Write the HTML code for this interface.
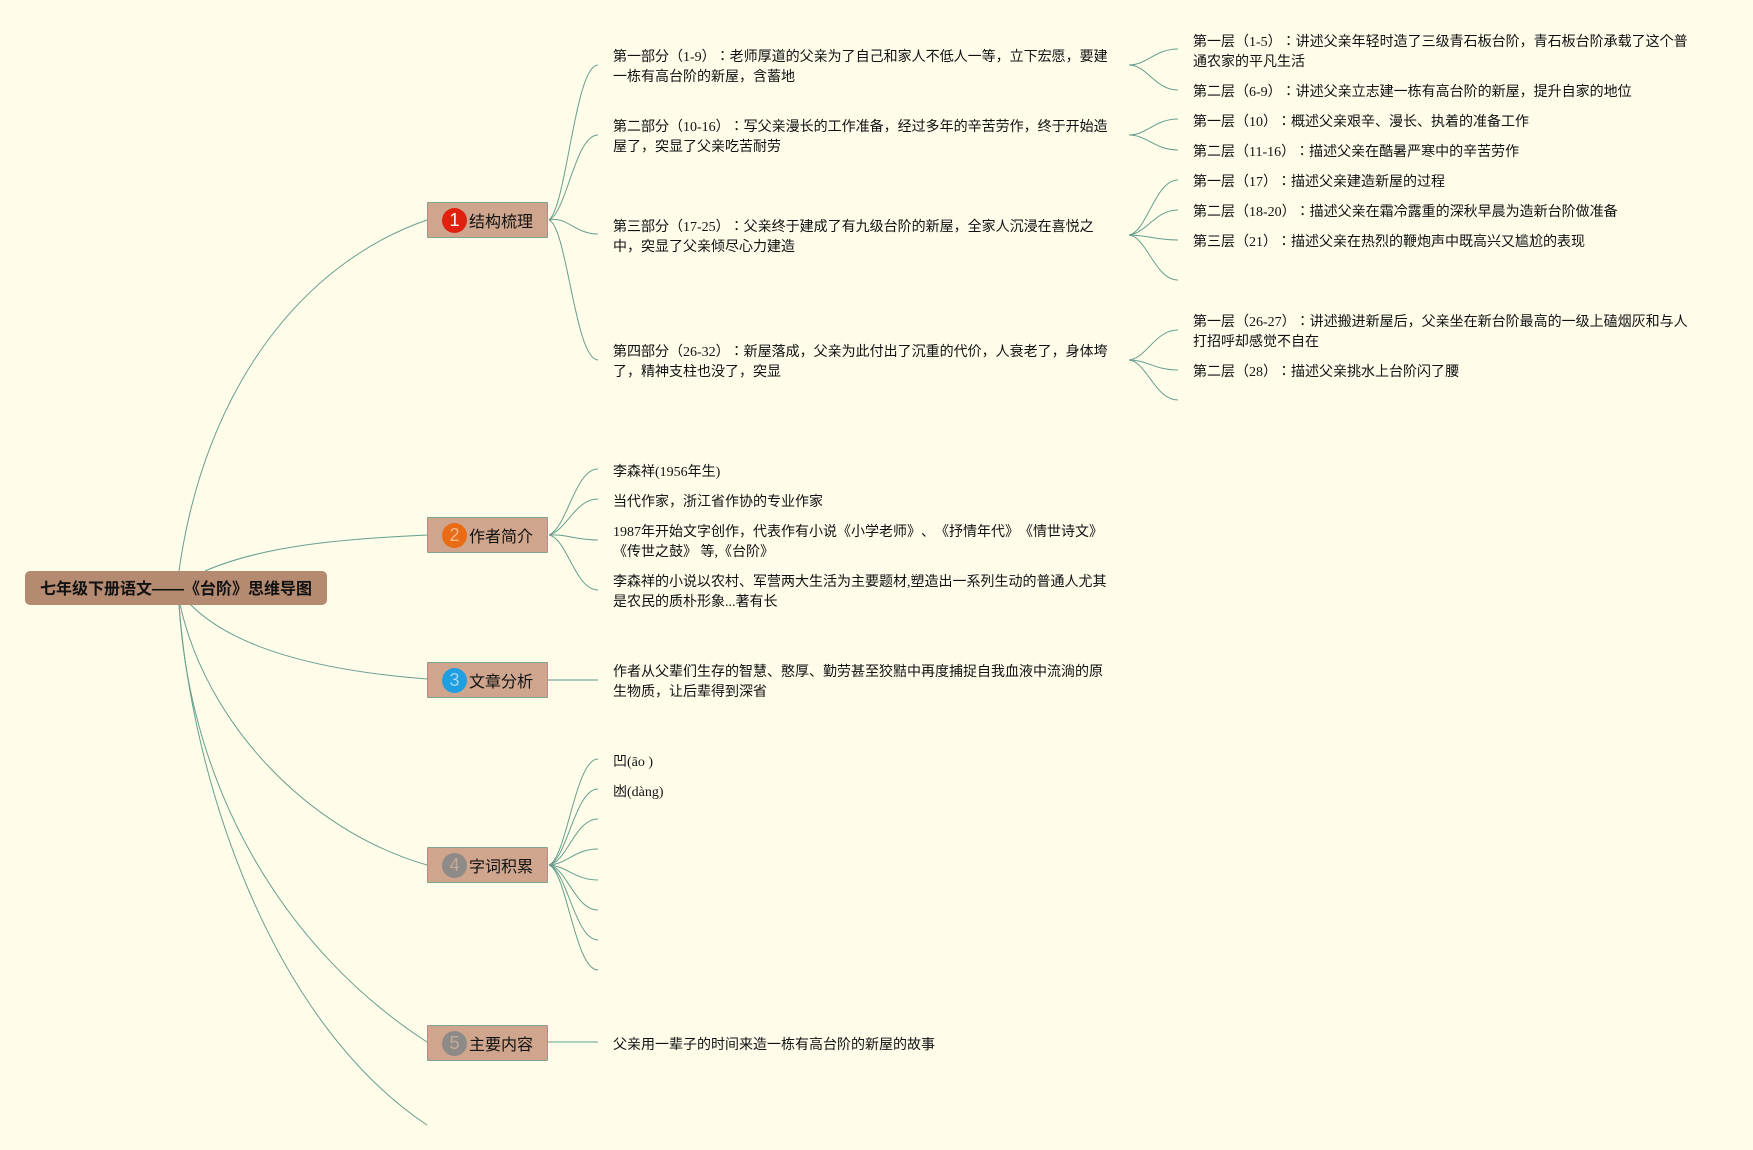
<!DOCTYPE html>
<html>
<head>
<meta charset="utf-8">
<title>七年级下册语文——《台阶》思维导图</title>
<style>
html,body{margin:0;padding:0;background:#fffcea;}
#p{position:relative;width:1753px;height:1150px;overflow:hidden;background:#fffcea;font-family:"Liberation Serif","Noto Sans CJK JP",serif;color:#111;text-spacing-trim:space-all;}
svg{position:absolute;left:0;top:0;}
.t{position:absolute;font-size:14px;line-height:20px;height:20px;white-space:nowrap;margin-top:2px;}
.a{left:613px;}
.b{left:1193px;}
.n{position:absolute;left:427px;width:119px;height:34px;background:#cfa68d;border:1px solid #7fa48f;border-radius:1px;}
.c{position:absolute;left:14px;top:5px;width:25px;height:25px;border-radius:50%;color:#fff;text-align:center;font:18px/25px "Liberation Sans",sans-serif;}
.l{position:absolute;left:41px;top:2px;font-size:16px;line-height:35px;white-space:nowrap;font-family:"Liberation Sans","Noto Sans CJK JP",sans-serif;}
#r{position:absolute;left:25px;top:571px;width:302px;height:34px;background:#b48a70;border-radius:5px;text-align:center;font:bold 16px/38px "Liberation Sans","Noto Sans CJK JP",sans-serif;white-space:nowrap;color:#111;}
</style>
</head>
<body>
<div id="p">
<svg width="1753" height="1150" fill="none" stroke="#66a08e" stroke-width="1">
<!-- root -->
<path d="M179 571 C205 385 305 262 427 220"/>
<path d="M205 571 C262 546 340 539 427 535"/>
<path d="M190 604 C230 645 310 670 427 679"/>
<path d="M180 604 C205 720 305 830 427 865"/>
<path d="M179 604 C190 790 285 950 427 1042"/>
<path d="M179 604 C192 780 270 1020 427 1125"/>
<!-- node 1 -->
<path d="M549 220 C567 205 575 65 598 65"/>
<path d="M549 220 C567 212 575 135 598 135"/>
<path d="M549 220 C567 216 575 234 598 234"/>
<path d="M549 220 C567 226 575 360 598 360"/>
<!-- node 2 -->
<path d="M549 535 C567 528 575 469 598 469"/>
<path d="M549 535 C567 530 575 499 598 499"/>
<path d="M549 535 C567 534 575 540 598 540"/>
<path d="M549 535 C567 538 575 590 598 590"/>
<!-- node 3, 5 -->
<path d="M548 680 H598" stroke="#8fbaa8" stroke-width="1.5"/>
<path d="M548 1042 H598"/>
<!-- node 4 -->
<path d="M549 865 C567 858 575 759 598 759"/>
<path d="M549 865 C567 860 575 789 598 789"/>
<path d="M549 865 C567 862 575 819 598 819"/>
<path d="M549 865 C567 864 575 849 598 849"/>
<path d="M549 865 C567 866 575 880 598 880"/>
<path d="M549 865 C567 868 575 910 598 910"/>
<path d="M549 865 C567 870 575 940 598 940"/>
<path d="M549 865 C567 872 575 970 598 970"/>
<!-- third level -->
<path d="M1129 65 C1147 65 1155 49 1178 49"/>
<path d="M1129 65 C1147 65 1155 90 1178 90"/>
<path d="M1129 135 C1147 135 1155 119 1178 119"/>
<path d="M1129 135 C1147 135 1155 150 1178 150"/>
<path d="M1129 235 C1147 232 1155 180 1178 180"/>
<path d="M1129 235 C1147 233 1155 210 1178 210"/>
<path d="M1129 235 C1147 235 1155 240 1178 240"/>
<path d="M1129 235 C1147 237 1155 280 1178 280"/>
<path d="M1129 360 C1147 358 1155 330 1178 330"/>
<path d="M1129 360 C1147 360 1155 370 1178 370"/>
<path d="M1129 360 C1147 362 1155 400 1178 400"/>
</svg>

<div id="r">七年级下册语文——《台阶》思维导图</div>

<div class="n" style="top:202px"><div class="c" style="background:#e0210f">1</div><div class="l">结构梳理</div></div>
<div class="n" style="top:517px"><div class="c" style="background:#ea6b16;color:#f6b98a">2</div><div class="l">作者简介</div></div>
<div class="n" style="top:662px"><div class="c" style="background:#1f9ee0;color:#9fd6f2">3</div><div class="l">文章分析</div></div>
<div class="n" style="top:847px"><div class="c" style="background:#8d8a88;color:#c3ab9b">4</div><div class="l">字词积累</div></div>
<div class="n" style="top:1025px"><div class="c" style="background:#8d8a88;color:#c3ab9b">5</div><div class="l">主要内容</div></div>

<div class="t a" style="top:46px">第一部分（1-9）：老师厚道的父亲为了自己和家人不低人一等，立下宏愿，要建</div>
<div class="t a" style="top:66px">一栋有高台阶的新屋，含蓄地</div>
<div class="t a" style="top:116px">第二部分（10-16）：写父亲漫长的工作准备，经过多年的辛苦劳作，终于开始造</div>
<div class="t a" style="top:136px">屋了，突显了父亲吃苦耐劳</div>
<div class="t a" style="top:216px">第三部分（17-25）：父亲终于建成了有九级台阶的新屋，全家人沉浸在喜悦之</div>
<div class="t a" style="top:236px">中，突显了父亲倾尽心力建造</div>
<div class="t a" style="top:341px">第四部分（26-32）：新屋落成，父亲为此付出了沉重的代价，人衰老了，身体垮</div>
<div class="t a" style="top:361px">了，精神支柱也没了，突显</div>

<div class="t b" style="top:31px">第一层（1-5）：讲述父亲年轻时造了三级青石板台阶，青石板台阶承载了这个普</div>
<div class="t b" style="top:51px">通农家的平凡生活</div>
<div class="t b" style="top:81px">第二层（6-9）：讲述父亲立志建一栋有高台阶的新屋，提升自家的地位</div>
<div class="t b" style="top:111px">第一层（10）：概述父亲艰辛、漫长、执着的准备工作</div>
<div class="t b" style="top:141px">第二层（11-16）：描述父亲在酷暑严寒中的辛苦劳作</div>
<div class="t b" style="top:171px">第一层（17）：描述父亲建造新屋的过程</div>
<div class="t b" style="top:201px">第二层（18-20）：描述父亲在霜冷露重的深秋早晨为造新台阶做准备</div>
<div class="t b" style="top:231px">第三层（21）：描述父亲在热烈的鞭炮声中既高兴又尴尬的表现</div>
<div class="t b" style="top:311px">第一层（26-27）：讲述搬进新屋后，父亲坐在新台阶最高的一级上磕烟灰和与人</div>
<div class="t b" style="top:331px">打招呼却感觉不自在</div>
<div class="t b" style="top:361px">第二层（28）：描述父亲挑水上台阶闪了腰</div>

<div class="t a" style="top:461px">李森祥(1956年生)</div>
<div class="t a" style="top:491px">当代作家，浙江省作协的专业作家</div>
<div class="t a" style="top:521px">1987年开始文字创作，代表作有小说《小学老师》、《抒情年代》《情世诗文》</div>
<div class="t a" style="top:541px">《传世之鼓》 等,《台阶》</div>
<div class="t a" style="top:571px">李森祥的小说以农村、军营两大生活为主要题材,塑造出一系列生动的普通人尤其</div>
<div class="t a" style="top:591px">是农民的质朴形象...著有长</div>
<div class="t a" style="top:661px">作者从父辈们生存的智慧、憨厚、勤劳甚至狡黠中再度捕捉自我血液中流淌的原</div>
<div class="t a" style="top:681px">生物质，让后辈得到深省</div>
<div class="t a" style="top:751px">凹(āo )</div>
<div class="t a" style="top:781px">凼(dàng)</div>
<div class="t a" style="top:1034px">父亲用一辈子的时间来造一栋有高台阶的新屋的故事</div>
</div>
</body>
</html>
